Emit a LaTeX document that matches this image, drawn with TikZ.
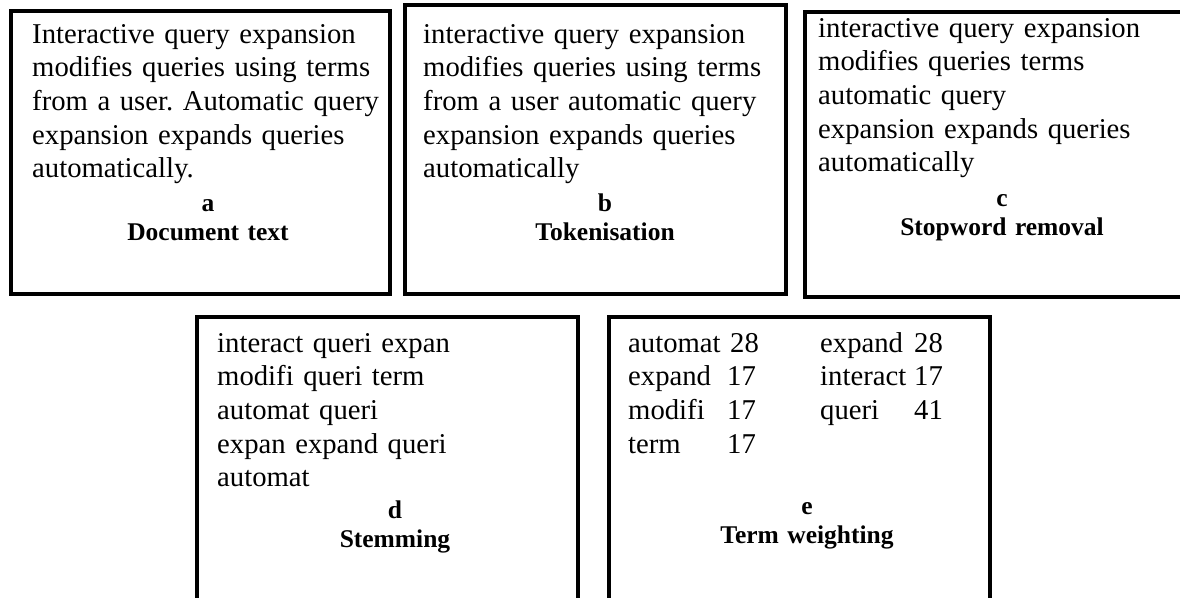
\documentclass[tikz,border=0pt]{standalone}
\usepackage{fontspec}
\setmainfont{Liberation Serif}
\frenchspacing
\usetikzlibrary{positioning}

\begin{document}
\begin{tikzpicture}[
  x=1pt, y=-1pt,
  panel/.style={rectangle, draw, line width=4pt, inner sep=0pt, anchor=north west},
  bodytext/.style={anchor=base west, inner sep=0pt, text width=360pt, align=left, font={\fontsize{28.7pt}{33.7pt}\selectfont}},
  stagename/.style={anchor=base, inner sep=0pt, text width=320pt, align=center, font={\bfseries\fontsize{25.5pt}{29.5pt}\selectfont}}
]
\useasboundingbox (0,0) rectangle (1180,597);
\clip (0,0) rectangle (1180,597);

% the five panels
\node[panel, minimum width=379pt, minimum height=283pt] (boxa) at (9,9) {};
\node[panel, minimum width=381pt, minimum height=289pt] (boxb) at (403,3) {};
\node[panel, minimum width=400pt, minimum height=285pt] (boxc) at (803,10) {};
\node[panel, minimum width=381pt, minimum height=300pt] (boxd) at (195,315) {};
\node[panel, minimum width=381pt, minimum height=300pt] (boxe) at (607,315) {};

% a
\node[bodytext] (atext) at (32,43) {Interactive query expansion\\modifies queries using terms\\from a user. Automatic query\\expansion expands queries\\automatically.};
\node[stagename] (aname) at (208,211) {a\\Document text};

% b
\node[bodytext] (btext) at (423,43) {interactive query expansion\\modifies queries using terms\\from a user automatic query\\expansion expands queries\\automatically};
\node[stagename] (bname) at (605,211) {b\\Tokenisation};

% c
\node[bodytext] (ctext) at (818,37) {interactive query expansion\\modifies queries terms\\automatic query\\expansion expands queries\\automatically};
\node[stagename] (cname) at (1002,206) {c\\Stopword removal};

% d
\node[bodytext] (dtext) at (217,352) {interact queri expan\\modifi queri term\\automat queri\\expan expand queri\\automat};
\node[stagename] (dname) at (395,518) {d\\Stemming};

% e
\node[bodytext] (eleft) at (628,352) {automat 28\\\makebox[99pt][l]{expand}17\\\makebox[99pt][l]{modifi}17\\\makebox[99pt][l]{term}17};
\node[bodytext] (eright) at (820,352) {\makebox[94pt][l]{expand}28\\\makebox[94pt][l]{interact}17\\\makebox[94pt][l]{queri}41};
\node[stagename] (ename) at (807,514) {e\\Term weighting};
\end{tikzpicture}
\end{document}
